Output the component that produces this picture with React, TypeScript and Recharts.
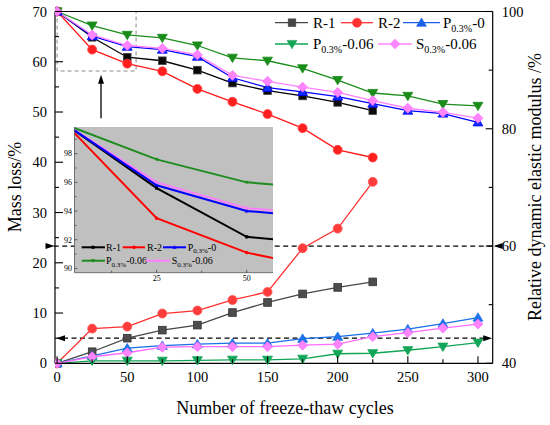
import React from 'react';
import {
  ComposedChart,
  LineChart,
  Line,
  XAxis,
  YAxis,
  ReferenceLine,
  ReferenceArea,
  Legend,
  CartesianGrid,
} from 'recharts';

const FONT = '"Liberation Serif", "Times New Roman", serif';

// ---------------- data ----------------
const cycles = [0, 25, 50, 75, 100, 125, 150, 175, 200, 225, 250, 275, 300];

// Mass loss (%) — left axis
const massR1 = [0, 2.3, 5.0, 6.6, 7.6, 10.1, 12.1, 13.8, 15.1, 16.2];
const massR2 = [0, 6.9, 7.3, 9.9, 10.5, 12.6, 14.2, 22.9, 26.8, 36.1];
const massP0 = [0, 1.5, 3.0, 3.5, 3.8, 4.0, 4.0, 4.9, 5.3, 6.0, 6.8, 7.9, 9.1];
const massP6 = [0, 0.5, 0.5, 0.5, 0.6, 0.7, 0.7, 0.9, 1.9, 2.0, 2.6, 3.3, 4.1];
const massS6 = [0, 1.3, 2.1, 3.2, 3.3, 3.3, 3.3, 3.6, 3.8, 5.3, 6.1, 7.0, 7.8];

// Relative dynamic elastic modulus (%) — right axis
const modR1 = [100, 95.6, 92.2, 91.6, 90.0, 87.8, 86.5, 85.6, 84.5, 83.1];
const modR2 = [100, 93.5, 91.1, 89.8, 86.8, 84.6, 82.5, 80.1, 76.4, 75.1];
const modP0 = [100, 95.8, 94.0, 93.5, 92.3, 88.7, 87.0, 86.3, 85.5, 84.3, 83.1, 82.6, 81.1];
const modP6 = [100, 97.6, 96.0, 95.5, 94.2, 92.1, 91.6, 90.3, 88.3, 86.1, 85.6, 84.2, 83.9];
const modS6 = [100, 96.0, 94.2, 93.7, 92.6, 89.1, 88.1, 87.1, 86.2, 84.8, 83.5, 82.8, 81.8];

const xTicks = [0, 25, 50, 75, 100, 125, 150, 175, 200, 225, 250, 275, 300];
const leftTicks = [0, 5, 10, 15, 20, 25, 30, 35, 40, 45, 50, 55, 60, 65, 70];
const rightTicks = [40, 50, 60, 70, 80, 90, 100];
const rightLabels = [40, 60, 80, 100];

const insetXTicks = [12.5, 25, 37.5, 50];
const insetXLabels = [25, 50];
const insetYTicks = [90, 91, 92, 93, 94, 95, 96, 97, 98, 99];
const insetYLabels = [90, 92, 94, 96, 98];

const mainRows = cycles.map((x, i) => ({
  x,
  mR1: massR1[i],
  mR2: massR2[i],
  mP0: massP0[i],
  mP6: massP6[i],
  mS6: massS6[i],
  eR1: modR1[i],
  eR2: modR2[i],
  eP0: modP0[i],
  eP6: modP6[i],
  eS6: modS6[i],
}));

const insetRows = cycles.slice(0, 4).map((x, i) => ({
  x,
  eR1: modR1[i],
  eR2: modR2[i],
  eP0: modP0[i],
  eP6: modP6[i],
  eS6: modS6[i],
}));

// ---------------- markers ----------------
type Shape = 'square' | 'circle' | 'up' | 'down' | 'diamond';

function MarkerShape({ shape, cx, cy, size, fill, stroke, sw }: any) {
  const h = size / 2;
  const common = { fill, stroke, strokeWidth: sw };
  switch (shape as Shape) {
    case 'square':
      return <rect x={cx - h * 0.85} y={cy - h * 0.85} width={size * 0.85} height={size * 0.85} {...common} />;
    case 'circle':
      return <circle cx={cx} cy={cy} r={h} {...common} />;
    case 'up':
      return <polygon points={`${cx},${cy - h * 1.05} ${cx + h * 1.1},${cy + h * 0.8} ${cx - h * 1.1},${cy + h * 0.8}`} {...common} />;
    case 'down':
      return <polygon points={`${cx},${cy + h * 1.05} ${cx + h * 1.1},${cy - h * 0.8} ${cx - h * 1.1},${cy - h * 0.8}`} {...common} />;
    case 'diamond':
    default:
      return <polygon points={`${cx},${cy - h * 1.1} ${cx + h * 1.1},${cy} ${cx},${cy + h * 1.1} ${cx - h * 1.1},${cy}`} {...common} />;
  }
}

const makeDot = (shape: Shape, size: number, fill: string, stroke: string, sw = 0.8) => (props: any) => {
  const { cx, cy, index } = props;
  const k = `d-${shape}-${fill}-${index}`;
  if (cx == null || cy == null || Number.isNaN(cx) || Number.isNaN(cy)) return <g key={k} />;
  return (
    <g key={k}>
      <MarkerShape shape={shape} cx={cx} cy={cy} size={size} fill={fill} stroke={stroke} sw={sw} />
    </g>
  );
};

// ---------------- series styles ----------------
const massSeries = [
  { key: 'mR1', shape: 'square' as Shape, line: '#474747', fill: '#4d4d4d', edge: '#333333' },
  { key: 'mR2', shape: 'circle' as Shape, line: '#ff3030', fill: '#ff3b3b', edge: '#ff5555' },
  { key: 'mP0', shape: 'up' as Shape, line: '#1a6fe6', fill: '#1f74ea', edge: '#1a6fe6' },
  { key: 'mP6', shape: 'down' as Shape, line: '#12a455', fill: '#14a658', edge: '#12a455' },
  { key: 'mS6', shape: 'diamond' as Shape, line: '#ff6cff', fill: '#ff85ff', edge: '#ff70ff' },
];

const modSeries = [
  { key: 'eR1', shape: 'square' as Shape, line: '#000000', fill: '#0a0a0a', edge: '#444444' },
  { key: 'eR2', shape: 'circle' as Shape, line: '#ff1a1a', fill: '#ff1f1f', edge: '#ff4444' },
  { key: 'eP0', shape: 'up' as Shape, line: '#0000ff', fill: '#1030ff', edge: '#0000ff' },
  { key: 'eP6', shape: 'down' as Shape, line: '#1a8c1a', fill: '#1a8c1a', edge: '#1a8c1a' },
  { key: 'eS6', shape: 'diamond' as Shape, line: '#ff80ff', fill: '#ff85ff', edge: '#ff70ff' },
];

const insetSeries = [
  { key: 'eR1', shape: 'square' as Shape, color: '#000000' },
  { key: 'eR2', shape: 'circle' as Shape, color: '#ff0000' },
  { key: 'eP6', shape: 'down' as Shape, color: '#1e8c1e' },
  { key: 'eS6', shape: 'diamond' as Shape, color: '#ff80ff' },
  { key: 'eP0', shape: 'up' as Shape, color: '#0000ff' },
];

// ---------------- legend entries ----------------
const mainLegend = [
  { main: 'R-1', sub: '', tail: '', shape: 'square' as Shape, color: '#474747', row: 0, lx: 5, mx: 22, tx: 43, lw: 33 },
  { main: 'R-2', sub: '', tail: '', shape: 'circle' as Shape, color: '#ff3030', row: 0, lx: 71, mx: 87, tx: 108, lw: 32 },
  { main: 'P', sub: '0.3%', tail: '-0', shape: 'up' as Shape, color: '#1a5fe8', row: 0, lx: 133, mx: 151.5, tx: 173, lw: 37 },
  { main: 'P', sub: '0.3%', tail: '-0.06', shape: 'down' as Shape, color: '#12a455', row: 1, lx: 5, mx: 22, tx: 43, lw: 33 },
  { main: 'S', sub: '0.3%', tail: '-0.06', shape: 'diamond' as Shape, color: '#ff85ff', row: 1, lx: 108, mx: 125, tx: 146, lw: 34 },
];

const insetLegend = [
  { main: 'R-1', sub: '', tail: '', shape: 'square' as Shape, color: '#000000', row: 0, lx: 6.7, mx: 18, tx: 31, lw: 23.3 },
  { main: 'R-2', sub: '', tail: '', shape: 'circle' as Shape, color: '#ff0000', row: 0, lx: 47.7, mx: 59, tx: 72, lw: 22.3 },
  { main: 'P', sub: '0.3%', tail: '-0', shape: 'up' as Shape, color: '#0000ff', row: 0, lx: 88, mx: 99.5, tx: 112.7, lw: 23 },
  { main: 'P', sub: '0.3%', tail: '-0.06', shape: 'down' as Shape, color: '#1e8c1e', row: 1, lx: 6.7, mx: 18, tx: 31, lw: 23.3 },
  { main: 'S', sub: '0.3%', tail: '-0.06', shape: 'diamond' as Shape, color: '#ff80ff', row: 1, lx: 70.7, mx: 83, tx: 96.7, lw: 24.3 },
];

function LegendBox({ entries, rows, fontSize, subSize, subDy, lineW, markSize, w, h }: any) {
  return (
    <svg width={w} height={h} style={{ overflow: 'visible', display: 'block' }}>
      {entries.map((e: any, i: number) => {
        const cy = rows[e.row];
        return (
          <g key={i}>
            <line x1={e.lx} y1={cy} x2={e.lx + e.lw} y2={cy} stroke={e.color} strokeWidth={lineW} />
            <MarkerShape shape={e.shape} cx={e.mx} cy={cy} size={markSize} fill={e.color} stroke={e.color} sw={0.6} />
            <text x={e.tx} y={cy + fontSize * 0.33} fontSize={fontSize} fontFamily={FONT} fill="#000">
              {e.main}
              {e.sub ? (
                <tspan fontSize={subSize} dy={subDy}>
                  {e.sub}
                </tspan>
              ) : null}
              {e.tail ? (
                <tspan fontSize={fontSize} dy={e.sub ? -subDy : 0}>
                  {e.tail}
                </tspan>
              ) : null}
            </text>
          </g>
        );
      })}
    </svg>
  );
}

// ---------------- ticks ----------------
const XTick = (props: any) => {
  const { x, y, payload } = props;
  const v = payload.value;
  const major = v % 50 === 0;
  return (
    <g>
      <line x1={x} y1={y} x2={x} y2={y - (major ? 7 : 4)} stroke="#000" strokeWidth={1.1} />
      {major && (
        <text x={x} y={y + 19} textAnchor="middle" fontSize={14.5} fontFamily={FONT} fill="#000">
          {v}
        </text>
      )}
    </g>
  );
};

const LeftTick = (props: any) => {
  const { x, y, payload } = props;
  const v = payload.value;
  const major = v % 10 === 0;
  return (
    <g>
      <line x1={x} y1={y} x2={x + (major ? 8 : 4)} y2={y} stroke="#000" strokeWidth={1.1} />
      {major && (
        <text x={x - 8} y={y + 5} textAnchor="end" fontSize={14.5} fontFamily={FONT} fill="#000">
          {v}
        </text>
      )}
    </g>
  );
};

const RightTick = (props: any) => {
  const { x, y, payload } = props;
  const v = payload.value;
  const major = rightLabels.includes(v);
  return (
    <g>
      <line x1={x} y1={y} x2={x - (major ? 7 : 4)} y2={y} stroke="#000" strokeWidth={1.1} />
      {major && (
        <text x={x + 9} y={y + 5} textAnchor="start" fontSize={14.5} fontFamily={FONT} fill="#000">
          {v}
        </text>
      )}
    </g>
  );
};

const InsetXTick = (props: any) => {
  const { x, y, payload } = props;
  const v = payload.value;
  const lab = insetXLabels.includes(v);
  return (
    <g>
      <line x1={x} y1={y} x2={x} y2={y - (lab ? 3 : 2)} stroke="#333" strokeWidth={0.7} />
      {lab && (
        <text x={x} y={y + 8.5} textAnchor="middle" fontSize={8} fontFamily={FONT} fill="#000">
          {v}
        </text>
      )}
    </g>
  );
};

const InsetYTick = (props: any) => {
  const { x, y, payload } = props;
  const v = payload.value;
  const lab = insetYLabels.includes(v);
  return (
    <g>
      <line x1={x} y1={y} x2={x + (lab ? 3 : 2)} y2={y} stroke="#333" strokeWidth={0.7} />
      {lab && (
        <text x={x - 2.5} y={y + 2.8} textAnchor="end" fontSize={8} fontFamily={FONT} fill="#000">
          {v}
        </text>
      )}
    </g>
  );
};

// ---------------- annotation shapes ----------------
const DoubleArrowDash = (props: any) => {
  const { x1, y1, x2, y2 } = props;
  return (
    <g>
      <line x1={x1 + 8} y1={y1} x2={x2 - 8} y2={y2} stroke="#000" strokeWidth={1.2} strokeDasharray="5 3.5" />
      <polygon points={`${x1 + 1},${y1} ${x1 + 10},${y1 - 3} ${x1 + 10},${y1 + 3}`} fill="#000" />
      <polygon points={`${x2 - 0.5},${y2} ${x2 - 9.5},${y2 - 3} ${x2 - 9.5},${y2 + 3}`} fill="#000" />
    </g>
  );
};

const UpArrow = (props: any) => {
  const { x1, y1, x2, y2 } = props;
  return (
    <g>
      <line x1={x1} y1={y1} x2={x2} y2={y2 + 6} stroke="#000" strokeWidth={1.3} />
      <polygon points={`${x2},${y2} ${x2 - 3},${y2 + 9} ${x2 + 3},${y2 + 9}`} fill="#000" />
    </g>
  );
};

const AxisTitle = (txt: string, x: number, y: number, rotate: number) => () => (
  <text
    x={x}
    y={y}
    textAnchor="middle"
    fontSize={18}
    fontFamily={FONT}
    fill="#000"
    transform={rotate ? `rotate(${rotate} ${x} ${y})` : undefined}
  >
    {txt}
  </text>
);

export default function App() {
  return (
    <div style={{ position: 'absolute', left: 0, top: 0, width: 550, height: 425, fontFamily: FONT, background: '#fff' }}>
      <ComposedChart
        width={550}
        height={425}
        data={mainRows}
        margin={{ top: 11.5, right: 0, bottom: 31.7, left: 0 }}
      >
        <XAxis
          dataKey="x"
          type="number"
          domain={[-1.5, 310.5]}
          allowDataOverflow
          ticks={xTicks}
          interval={0}
          tick={XTick}
          tickLine={false}
          tickSize={0}
          tickMargin={0}
          height={30}
          axisLine={{ stroke: '#000', strokeWidth: 1.2 }}
          label={{ content: AxisTitle('Number of freeze-thaw cycles', 285, 414, 0) }}
        />
        <YAxis
          yAxisId="left"
          type="number"
          domain={[0, 70]}
          ticks={leftTicks}
          interval={0}
          width={55}
          tick={LeftTick}
          tickLine={false}
          tickSize={0}
          tickMargin={0}
          axisLine={{ stroke: '#000', strokeWidth: 1.2 }}
          label={{ content: AxisTitle('Mass loss/%', 21, 187, -90) }}
        />
        <YAxis
          yAxisId="right"
          orientation="right"
          type="number"
          domain={[40, 100]}
          ticks={rightTicks}
          interval={0}
          width={57.3}
          tick={RightTick}
          tickLine={false}
          tickSize={0}
          tickMargin={0}
          axisLine={{ stroke: '#000', strokeWidth: 1.2 }}
          label={{ content: AxisTitle('Relative dynamic elastic modulus /%', 541, 187, -90) }}
        />

        <ReferenceLine yAxisId="right" y={100} stroke="#000" strokeWidth={1.2} />
        <ReferenceLine yAxisId="right" y={60} shape={DoubleArrowDash} />
        <ReferenceLine yAxisId="left" y={5} shape={DoubleArrowDash} />
        <ReferenceArea
          yAxisId="right"
          x1={0}
          x2={56.3}
          y1={89.85}
          y2={100}
          fill="none"
          fillOpacity={0}
          stroke="#8a8a8a"
          strokeWidth={1}
          strokeDasharray="4 3"
        />
        <ReferenceLine
          yAxisId="right"
          segment={[
            { x: 31.3, y: 81.8 },
            { x: 31.3, y: 89.2 },
          ]}
          shape={UpArrow}
        />

        {massSeries.map((s) => (
          <Line
            key={s.key}
            yAxisId="left"
            type="linear"
            dataKey={s.key}
            stroke={s.line}
            strokeWidth={1.3}
            dot={makeDot(s.shape, 9, s.fill, s.edge)}
            activeDot={false}
            isAnimationActive={false}
          />
        ))}
        {modSeries.map((s) => (
          <Line
            key={s.key}
            yAxisId="right"
            type="linear"
            dataKey={s.key}
            stroke={s.line}
            strokeWidth={1.3}
            dot={makeDot(s.shape, 9, s.fill, s.edge)}
            activeDot={false}
            isAnimationActive={false}
          />
        ))}

        <Legend
          layout="horizontal"
          verticalAlign="middle"
          align="center"
          wrapperStyle={{ left: 270, top: 8, width: 230, height: 50 }}
          content={() => (
            <LegendBox
              entries={mainLegend}
              rows={[14.7, 36]}
              fontSize={15}
              subSize={10}
              subDy={4}
              lineW={1.3}
              markSize={9}
              w={230}
              h={50}
            />
          )}
        />
      </ComposedChart>

      <div style={{ position: 'absolute', left: 55, top: 120 }}>
        <LineChart
          width={230}
          height={170}
          data={insetRows}
          margin={{ top: 7, right: 12, bottom: 0, left: 0 }}
        >
          <CartesianGrid fill="#c0c0c0" horizontal={false} vertical={false} />
          <XAxis
            dataKey="x"
            type="number"
            domain={[2.2, 57.3]}
            allowDataOverflow
            ticks={insetXTicks}
            interval={0}
            tick={InsetXTick}
            tickLine={false}
            tickSize={0}
            tickMargin={0}
            height={17.3}
            axisLine={{ stroke: '#555', strokeWidth: 0.8 }}
          />
          <YAxis
            type="number"
            domain={[89.7, 99.86]}
            allowDataOverflow
            ticks={insetYTicks}
            interval={0}
            width={19.5}
            tick={InsetYTick}
            tickLine={false}
            tickSize={0}
            tickMargin={0}
            axisLine={{ stroke: '#555', strokeWidth: 0.8 }}
          />
          {insetSeries.map((s) => (
            <Line
              key={s.key}
              type="linear"
              dataKey={s.key}
              stroke={s.color}
              strokeWidth={2}
              dot={makeDot(s.shape, 3, s.color, s.color, 0.5)}
              activeDot={false}
              isAnimationActive={false}
            />
          ))}
          <Legend
            layout="horizontal"
            verticalAlign="middle"
            align="center"
            wrapperStyle={{ left: 20, top: 120, width: 150, height: 30 }}
            content={() => (
              <LegendBox
                entries={insetLegend}
                rows={[7.3, 20.7]}
                fontSize={10}
                subSize={7}
                subDy={2.5}
                lineW={2}
                markSize={3}
                w={150}
                h={30}
              />
            )}
          />
        </LineChart>
      </div>
    </div>
  );
}
